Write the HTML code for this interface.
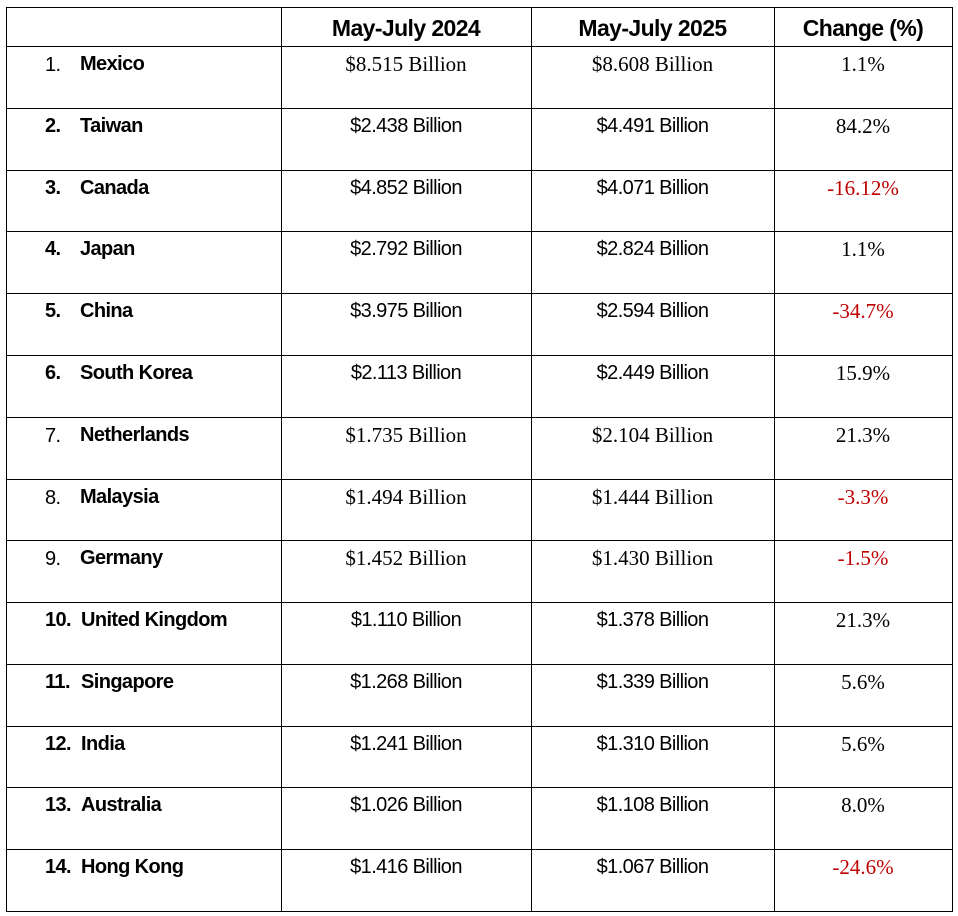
<!DOCTYPE html>
<html><head><meta charset="utf-8"><style>
body{margin:0;width:958px;height:916px;background:#fff;position:relative;overflow:hidden}
.l{position:absolute;background:#000}
.t{position:absolute;white-space:nowrap;line-height:1;color:#000}
.s{font-family:"Liberation Sans",sans-serif;font-size:20px;letter-spacing:-0.6px}
.r{font-family:"Liberation Serif",serif;font-size:21px}
.b{font-weight:bold}
.c{transform:translateX(-50%)}
.red{color:#c00000}
</style></head><body>
<script>
const countries=["Mexico","Taiwan","Canada","Japan","China","South Korea","Netherlands","Malaysia","Germany","United Kingdom","Singapore","India","Australia","Hong Kong"];
const v2024=["$8.515 Billion","$2.438 Billion","$4.852 Billion","$2.792 Billion","$3.975 Billion","$2.113 Billion","$1.735 Billion","$1.494 Billion","$1.452 Billion","$1.110 Billion","$1.268 Billion","$1.241 Billion","$1.026 Billion","$1.416 Billion"];
const v2025=["$8.608 Billion","$4.491 Billion","$4.071 Billion","$2.824 Billion","$2.594 Billion","$2.449 Billion","$2.104 Billion","$1.444 Billion","$1.430 Billion","$1.378 Billion","$1.339 Billion","$1.310 Billion","$1.108 Billion","$1.067 Billion"];
const changes=["1.1%","84.2%","-16.12%","1.1%","-34.7%","15.9%","21.3%","-3.3%","-1.5%","21.3%","5.6%","5.6%","8.0%","-24.6%"];
const serifRows=[0,6,7,8];
const plainNum=[0,6,7,8];
const X=[6,281,531,774,952],TOP=7,HB=46,BOT=911,RH=(BOT-HB)/14;
function line(x,y,w,h,n){const d=document.createElement('div');d.className='l';


d.style.cssText=`left:${x}px;top:${y}px;width:${w}px;height:${h}px`;document.body.appendChild(d);}
function txt(s,x,y,cls,n){const d=document.createElement('div');d.className='t '+cls;d.textContent=s;


d.style.left=x+'px';d.style.top=y+'px';document.body.appendChild(d);}
X.forEach((x,i)=>line(x,TOP,1,BOT-TOP+1,'column-border-'+i));
line(X[0],TOP,X[4]-X[0]+1,1,'top-border');
line(X[0],HB,X[4]-X[0]+1,1,'header-border');
for(let i=1;i<=14;i++)line(X[0],Math.round(HB+i*RH),X[4]-X[0]+1,1,'row-border-'+i);
const hdr=["May-July 2024","May-July 2025","Change (%)"];
hdr.forEach((h,i)=>txt(h,(X[i+1]+X[i+2])/2,17,'s b c','header-'+(i+1)));
document.querySelectorAll('.t.s.b.c').forEach(e=>{e.style.fontSize='23px';});
countries.forEach((c,i)=>{
 const y=Math.round(HB+i*RH)+8;
 const num=(i+1)+'.';
 const plain=plainNum.includes(i);
 txt(num,i<9?45:45,y+ (plain?1:0),plain?'s':'s b','row-number');
 txt(c,i<9?80:81,y,'s b','country-name');
 const ser=serifRows.includes(i);
 txt(v2024[i],(X[1]+X[2])/2,y,(ser?'r':'s')+' c','value-2024');
 txt(v2025[i],(X[2]+X[3])/2,y,(ser?'r':'s')+' c','value-2025');
 txt(changes[i],(X[3]+X[4])/2,y,'r c'+(changes[i][0]=='-'?' red':''),'change-percent');
});
</script>
</body></html>
